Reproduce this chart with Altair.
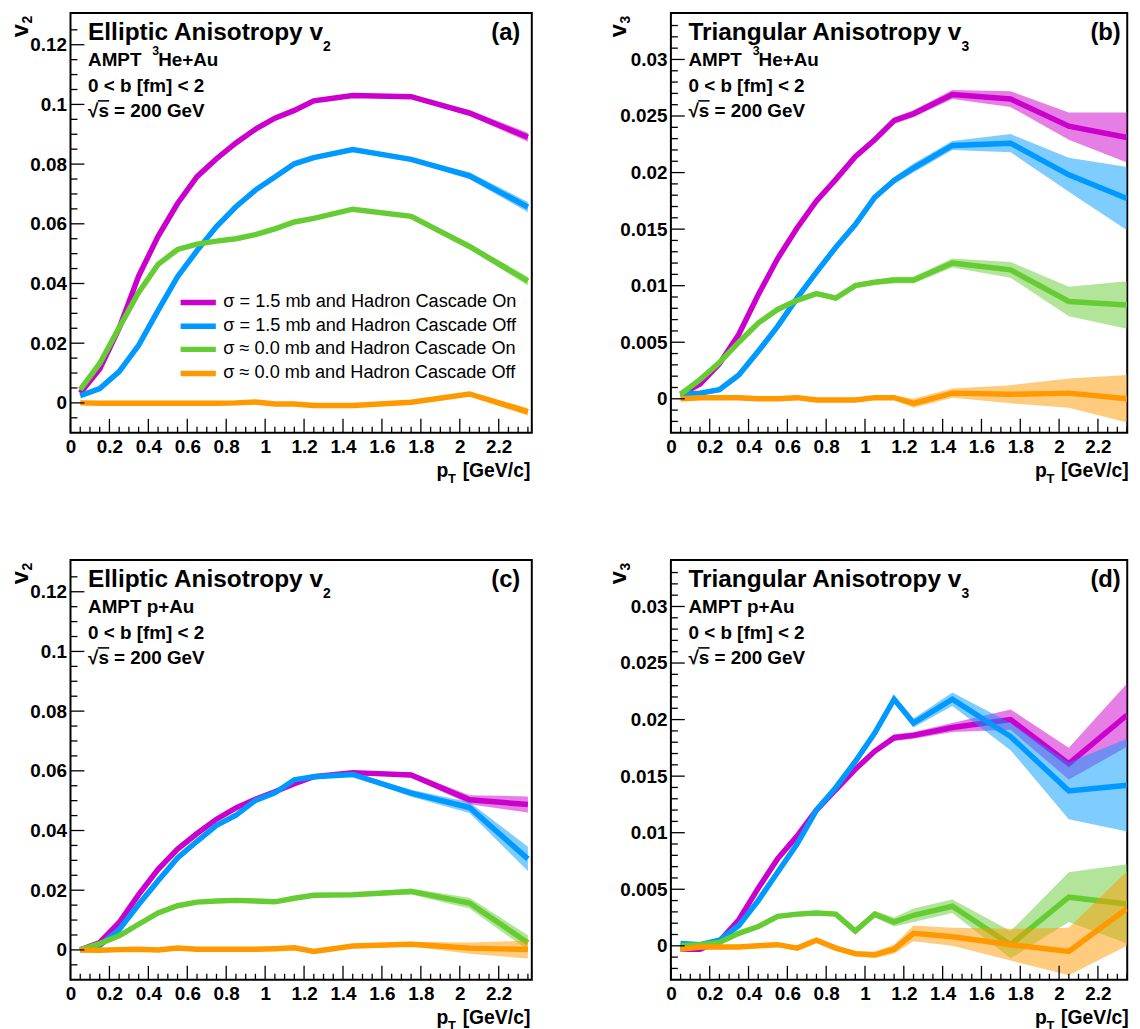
import altair as alt
import pandas as pd

FONT = "Liberation Sans"

# ---------------- data ----------------
PT = [0.05, 0.15, 0.25, 0.35, 0.45, 0.55, 0.65, 0.75, 0.85, 0.95,
      1.05, 1.15, 1.25, 1.45, 1.75, 2.05, 2.35]

SERIES = ["σ = 1.5 mb and Hadron Cascade On",
          "σ = 1.5 mb and Hadron Cascade Off",
          "σ ≈ 0.0 mb and Hadron Cascade On",
          "σ ≈ 0.0 mb and Hadron Cascade Off"]
COLORS = ["#CC00CC", "#0099FF", "#66CC33", "#FF9900"]

# (a) v2, 3He+Au
A_MAG = [0.0033, 0.0113, 0.025, 0.0425, 0.0558, 0.0668, 0.0758, 0.0818, 0.0871, 0.0917, 0.0954, 0.098, 0.1012, 0.103, 0.1026, 0.0971, 0.089]
A_BLU = [0.0024, 0.0048, 0.0105, 0.0193, 0.031, 0.0423, 0.051, 0.0591, 0.0657, 0.0713, 0.0757, 0.0801, 0.0822, 0.0849, 0.0816, 0.0761, 0.0656]
A_GRN = [0.0044, 0.0132, 0.0252, 0.037, 0.0464, 0.0514, 0.0532, 0.0542, 0.055, 0.0564, 0.0583, 0.0606, 0.0618, 0.0649, 0.0625, 0.0524, 0.0408]
A_ORA = [0.0, -0.0001, -0.0001, -0.0001, -0.0001, -0.0001, -0.0001, -0.0001, 0.0, 0.0003, -0.0004, -0.0004, -0.0009, -0.0009, 0.0002, 0.003, -0.003]
A_MAG_E = [0.0003, 0.0003, 0.0003, 0.0003, 0.0003, 0.0003, 0.0003, 0.0003, 0.0003, 0.0003, 0.0003, 0.0003, 0.0003, 0.0004, 0.0005, 0.001, 0.0015]
A_BLU_E = [0.0003, 0.0003, 0.0003, 0.0003, 0.0003, 0.0003, 0.0003, 0.0003, 0.0003, 0.0003, 0.0003, 0.0003, 0.0003, 0.0004, 0.0006, 0.0012, 0.0017]
A_GRN_E = [0.0003, 0.0003, 0.0003, 0.0003, 0.0003, 0.0003, 0.0003, 0.0003, 0.0003, 0.0003, 0.0003, 0.0003, 0.0003, 0.0004, 0.0005, 0.0009, 0.0015]
A_ORA_E = [0.0003, 0.0003, 0.0003, 0.0003, 0.0003, 0.0003, 0.0003, 0.0003, 0.0003, 0.0003, 0.0003, 0.0003, 0.0003, 0.0004, 0.0005, 0.0007, 0.0013]

# (b) v3, 3He+Au
B_MAG = [0.0004, 0.0013, 0.0031, 0.0057, 0.0092, 0.0124, 0.0151, 0.0175, 0.0194, 0.0214, 0.0229, 0.0246, 0.0252, 0.0269, 0.0265, 0.0241, 0.0231]
B_BLU = [0.0004, 0.0005, 0.0008, 0.0021, 0.0042, 0.0064, 0.0089, 0.0112, 0.0134, 0.0154, 0.0178, 0.0193, 0.0204, 0.0224, 0.0226, 0.0198, 0.0177]
B_GRN = [0.0004, 0.0017, 0.0032, 0.005, 0.0067, 0.0079, 0.0087, 0.0093, 0.0089, 0.01, 0.0103, 0.0105, 0.0105, 0.012, 0.0114, 0.0086, 0.0083]
B_ORA = [0.0, 0.0001, 0.0001, 0.0001, 0.0, 0.0, 0.0001, -0.0001, -0.0001, -0.0001, 0.0001, 0.0001, -0.0004, 0.0005, 0.0004, 0.0005, 0.0]
B_MAG_E = [0.0002, 0.0002, 0.0002, 0.0002, 0.0002, 0.0002, 0.0002, 0.0002, 0.0002, 0.0002, 0.0002, 0.0003, 0.0003, 0.0004, 0.0007, 0.0012, 0.0022]
B_BLU_E = [0.0002, 0.0002, 0.0002, 0.0002, 0.0002, 0.0002, 0.0002, 0.0002, 0.0002, 0.0002, 0.0002, 0.0003, 0.0004, 0.0004, 0.0008, 0.0015, 0.0028]
B_GRN_E = [0.0002, 0.0002, 0.0002, 0.0002, 0.0002, 0.0002, 0.0002, 0.0002, 0.0002, 0.0002, 0.0002, 0.0003, 0.0003, 0.0004, 0.0007, 0.0013, 0.0021]
B_ORA_E = [0.0002, 0.0002, 0.0002, 0.0002, 0.0002, 0.0002, 0.0002, 0.0002, 0.0002, 0.0002, 0.0002, 0.0002, 0.0004, 0.0004, 0.0008, 0.0013, 0.0021]

# (c) v2, p+Au
C_MAG = [0.0, 0.0025, 0.0092, 0.0185, 0.027, 0.0338, 0.039, 0.0438, 0.0476, 0.0505, 0.053, 0.0557, 0.058, 0.0594, 0.0586, 0.0503, 0.0487]
C_BLU = [0.0, 0.0015, 0.0068, 0.0152, 0.0232, 0.0308, 0.0364, 0.0417, 0.0451, 0.0501, 0.0526, 0.057, 0.058, 0.0588, 0.0525, 0.0477, 0.0305]
C_GRN = [0.0, 0.0021, 0.0047, 0.0086, 0.0124, 0.0148, 0.016, 0.0164, 0.0166, 0.0164, 0.0161, 0.0173, 0.0183, 0.0185, 0.0196, 0.0157, 0.0024]
C_ORA = [0.0, -0.0001, 0.0001, 0.0002, 0.0, 0.0006, 0.0002, 0.0002, 0.0002, 0.0002, 0.0004, 0.0007, -0.0005, 0.0013, 0.0019, 0.0006, 0.0001]
C_MAG_E = [0.0003, 0.0003, 0.0003, 0.0003, 0.0003, 0.0003, 0.0003, 0.0003, 0.0003, 0.0003, 0.0003, 0.0003, 0.0003, 0.0005, 0.0008, 0.0015, 0.0027]
C_BLU_E = [0.0003, 0.0003, 0.0003, 0.0003, 0.0003, 0.0003, 0.0003, 0.0003, 0.0003, 0.0003, 0.0003, 0.0003, 0.0003, 0.0006, 0.0012, 0.0018, 0.0041]
C_GRN_E = [0.0003, 0.0003, 0.0003, 0.0003, 0.0003, 0.0003, 0.0003, 0.0003, 0.0003, 0.0003, 0.0003, 0.0003, 0.0003, 0.0005, 0.001, 0.0018, 0.0025]
C_ORA_E = [0.0003, 0.0003, 0.0003, 0.0003, 0.0003, 0.0003, 0.0003, 0.0003, 0.0003, 0.0003, 0.0003, 0.0003, 0.0003, 0.0005, 0.0008, 0.0019, 0.003]

# (d) v3, p+Au
D_MAG = [-0.0003, -0.0003, 0.0004, 0.0023, 0.0051, 0.0077, 0.0097, 0.012, 0.0138, 0.0156, 0.0172, 0.0184, 0.0186, 0.0193, 0.02, 0.0161, 0.0204]
D_BLU = [0.0002, 0.0001, 0.0005, 0.0018, 0.004, 0.0065, 0.009, 0.012, 0.014, 0.0163, 0.0188, 0.0218, 0.0197, 0.0218, 0.0185, 0.0137, 0.0142]
D_GRN = [0.0, 0.0001, 0.0003, 0.0011, 0.0017, 0.0026, 0.0028, 0.0029, 0.0028, 0.0013, 0.0028, 0.0021, 0.0027, 0.0035, 0.0001, 0.0043, 0.0037]
D_ORA = [-0.0003, -0.0001, -0.0001, -0.0001, 0.0, 0.0001, -0.0002, 0.0005, -0.0002, -0.0007, -0.0008, -0.0003, 0.0011, 0.0008, 0.0001, -0.0005, 0.0033]
D_MAG_E = [0.0002, 0.0002, 0.0002, 0.0002, 0.0002, 0.0002, 0.0002, 0.0002, 0.0002, 0.0002, 0.0002, 0.0003, 0.0003, 0.0004, 0.0009, 0.0014, 0.0028]
D_BLU_E = [0.0002, 0.0002, 0.0002, 0.0002, 0.0002, 0.0002, 0.0002, 0.0002, 0.0002, 0.0002, 0.0003, 0.0003, 0.0004, 0.0006, 0.0012, 0.0025, 0.0041]
D_GRN_E = [0.0002, 0.0002, 0.0002, 0.0002, 0.0002, 0.0002, 0.0002, 0.0002, 0.0002, 0.0002, 0.0003, 0.0004, 0.0006, 0.0006, 0.0012, 0.0022, 0.0035]
D_ORA_E = [0.0002, 0.0002, 0.0002, 0.0002, 0.0002, 0.0002, 0.0002, 0.0002, 0.0002, 0.0002, 0.0003, 0.0004, 0.0007, 0.0008, 0.0014, 0.0021, 0.0033]

# ---------------- axes / ticks ----------------
X_MAJOR = [0, 0.2, 0.4, 0.6, 0.8, 1, 1.2, 1.4, 1.6, 1.8, 2, 2.2]
X_MINOR = [round(0.05 * i, 2) for i in range(1, 48) if i % 4]
V2_MAJOR = [0, 0.02, 0.04, 0.06, 0.08, 0.1, 0.12]
V2_MINOR = [round(0.005 * i, 3) for i in range(-1, 26) if i % 4]
V3_MAJOR = [0, 0.005, 0.01, 0.015, 0.02, 0.025, 0.03]
V3_MINOR = [round(0.001 * i, 3) for i in range(-2, 34) if i % 5]

ONE = pd.DataFrame({"k": [0]})


def txt(s, x, y, size, weight="bold", align="left", angle=0, baseline="alphabetic"):
    return alt.Chart(ONE).mark_text(
        text=s, font=FONT, fontSize=size, fontWeight=weight, align=align,
        baseline=baseline, angle=angle, color="black"
    ).encode(x=alt.value(x), y=alt.value(y))


def panel(ys, errs, xmax, ydom, w, h, ymajor, yminor, title, sub, sub_x,
          letter, letter_dx, system, ysub, vx, x_end, legend=False):
    xsc = alt.Scale(domain=[0, xmax], nice=False, zero=False)
    ysc = alt.Scale(domain=ydom, nice=False, zero=False)
    xax = alt.Axis(values=X_MAJOR, format="~g", title=None, labelFlush=False,
                   labelOverlap=False, labelPadding=5, labelAlign="center")
    yax = alt.Axis(values=ymajor, format="~g", title=None, labelPadding=4,
                   labelOverlap=False, labelFlush=False)
    layers = []
    for k in range(4):
        df = pd.DataFrame({
            "pt": PT, "v": ys[k],
            "lo": [a - e for a, e in zip(ys[k], errs[k])],
            "hi": [a + e for a, e in zip(ys[k], errs[k])],
        })
        base = alt.Chart(df)
        layers.append(base.mark_area(color=COLORS[k], opacity=0.5, clip=True).encode(
            x=alt.X("pt:Q", scale=xsc, axis=xax),
            y=alt.Y("lo:Q", scale=ysc, axis=yax),
            y2="hi:Q"))
        layers.append(base.mark_line(color=COLORS[k], strokeWidth=5.5, clip=True).encode(
            x=alt.X("pt:Q", scale=xsc, axis=xax),
            y=alt.Y("v:Q", scale=ysc, axis=yax)))
    # inward ticks (ROOT style)
    layers.append(alt.Chart(pd.DataFrame({"t": ymajor})).mark_rule(color="black", strokeWidth=1.3).encode(
        y=alt.Y("t:Q", scale=ysc, axis=yax), x=alt.value(0), x2=alt.value(14)))
    layers.append(alt.Chart(pd.DataFrame({"t": yminor})).mark_rule(color="black", strokeWidth=1.3).encode(
        y=alt.Y("t:Q", scale=ysc, axis=yax), x=alt.value(0), x2=alt.value(7)))
    layers.append(alt.Chart(pd.DataFrame({"t": X_MAJOR})).mark_rule(color="black", strokeWidth=1.3).encode(
        x=alt.X("t:Q", scale=xsc, axis=xax), y=alt.value(h), y2=alt.value(h - 14)))
    layers.append(alt.Chart(pd.DataFrame({"t": X_MINOR})).mark_rule(color="black", strokeWidth=1.3).encode(
        x=alt.X("t:Q", scale=xsc, axis=xax), y=alt.value(h), y2=alt.value(h - 6)))
    # annotations
    layers += [
        txt(title, 17.7, 27.3, 24.6),
        txt(sub, sub_x, 38.3, 14),
        txt(letter, w - letter_dx, 27.3, 24, align="right"),
    ]
    if system == "he":
        layers += [txt("AMPT", 17.7, 53.3, 19), txt("3", 82.4, 42.5, 12.5),
                   txt("He+Au", 88.4, 53.3, 19)]
    else:
        layers += [txt("AMPT p+Au", 17.7, 53.3, 19)]
    layers += [
        txt("0 < b [fm] < 2", 17.7, 80, 19),
        txt("√s = 200 GeV", 17.7, 105, 19),
        alt.Chart(ONE).mark_rule(color="black", strokeWidth=1.6).encode(
            x=alt.value(27.5), x2=alt.value(39), y=alt.value(88.5)),
        # y title
        txt("v", vx, 24.3, 24, angle=270),
        txt(ysub, vx + 4, 10.5, 14, angle=270),
        # x title
        txt("[GeV/c]", x_end, h + 45, 19.5, align="right"),
        txt("p", x_end - 94.5, h + 45, 19.5),
        txt("T", x_end - 83, h + 51, 13),
    ]
    if legend:
        ly = [291.7, 315.7, 339.0, 363.3]
        for k in range(4):
            layers.append(alt.Chart(ONE).mark_rule(color=COLORS[k], strokeWidth=5.5).encode(
                x=alt.value(111), x2=alt.value(146.5), y=alt.value(ly[k])))
            layers.append(txt(SERIES[k], 154, ly[k], 18.3, weight="normal", baseline="middle"))
    return alt.layer(*layers).properties(width=w, height=h)


W_L, W_R, H = 465, 460, 423
V2_DOM = [-0.0100, 0.1306]
V3_DOM = [-0.0030, 0.0341]

pa = panel([A_MAG, A_BLU, A_GRN, A_ORA], [A_MAG_E, A_BLU_E, A_GRN_E, A_ORA_E],
           2.37, V2_DOM, W_L, H, V2_MAJOR, V2_MINOR, "Elliptic Anisotropy v", "2", 254.5,
           "(a)", 11.6, "he", "2", -42.5, W_L - 1.5, legend=True)
pb = panel([B_MAG, B_BLU, B_GRN, B_ORA], [B_MAG_E, B_BLU_E, B_GRN_E, B_ORA_E],
           2.351, V3_DOM, W_R, H, V3_MAJOR, V3_MINOR, "Triangular Anisotropy v", "3", 293,
           "(b)", 6.5, "he", "3", -45.3, W_R + 1.5)
pc = panel([C_MAG, C_BLU, C_GRN, C_ORA], [C_MAG_E, C_BLU_E, C_GRN_E, C_ORA_E],
           2.37, V2_DOM, W_L, H, V2_MAJOR, V2_MINOR, "Elliptic Anisotropy v", "2", 254.5,
           "(c)", 11.6, "p", "2", -42.5, W_L - 1.5)
pdd = panel([D_MAG, D_BLU, D_GRN, D_ORA], [D_MAG_E, D_BLU_E, D_GRN_E, D_ORA_E],
            2.351, V3_DOM, W_R, H, V3_MAJOR, V3_MINOR, "Triangular Anisotropy v", "3", 293,
            "(d)", 6.5, "p", "3", -45.3, W_R + 1.5)

chart = alt.concat(
    pa, pb, pc, pdd, columns=2,
    spacing={"row": 128.4, "column": 140.2}, bounds="flush"
).properties(
    padding={"left": 0, "top": 0, "right": 2, "bottom": 0}
).configure_view(
    stroke="black", strokeWidth=2
).configure_axis(
    grid=False, ticks=False, tickSize=0, domain=False,
    labelFont=FONT, labelFontSize=19, labelFontWeight="bold", labelColor="black"
)

chart.save("out.html", embed_options={"renderer": "svg", "actions": False})
